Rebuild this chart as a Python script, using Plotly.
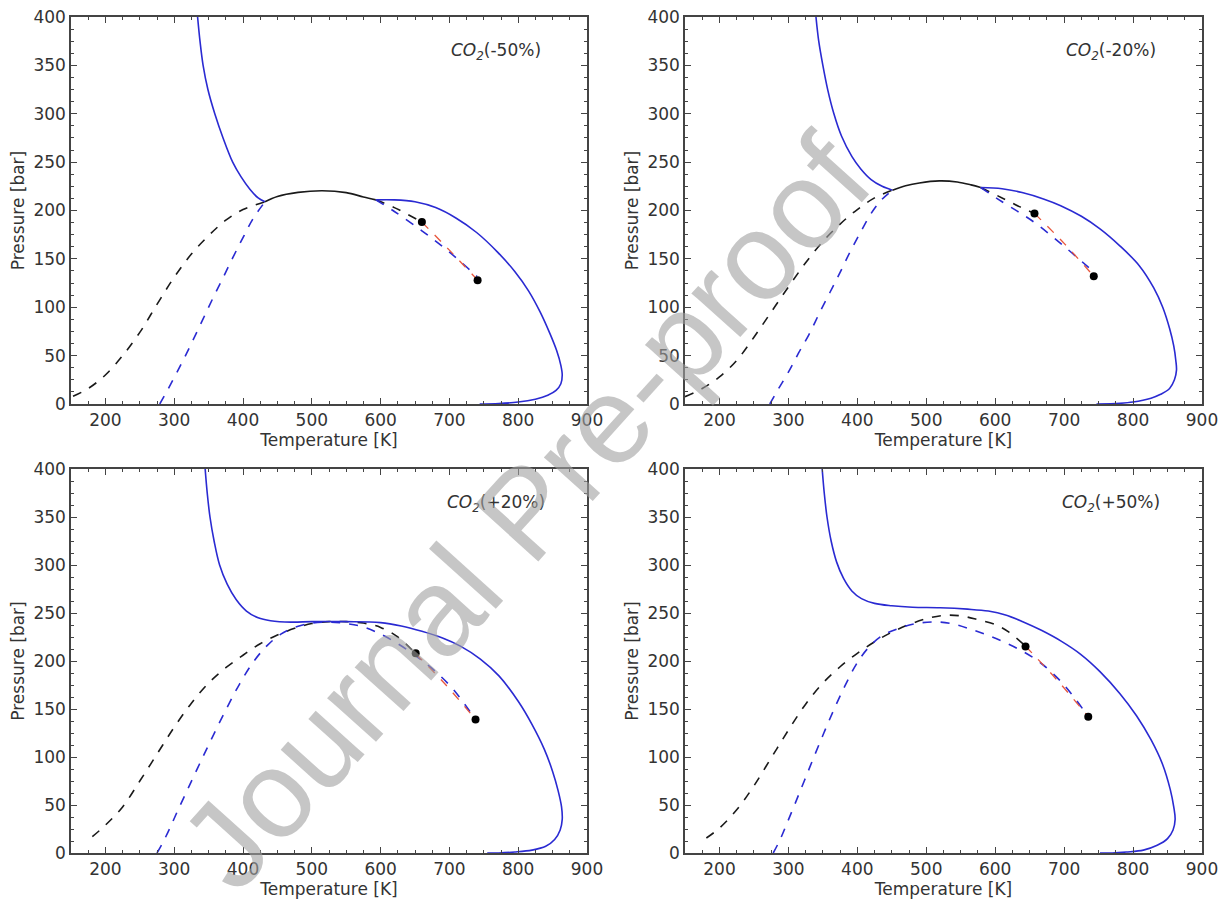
import plotly.graph_objects as go

# ---------------- data (T in K, P in bar) ----------------
labels = ["(-50%)", "(-20%)", "(+20%)", "(+50%)"]

# Panel 1: CO2(-50%)
p1_blue_up_T = [334, 337.5, 342, 349, 359, 371, 385, 397, 410, 422, 432]
p1_blue_up_P = [400, 375, 350, 325, 300, 275, 250, 235, 222, 213, 209]
p1_dome_T = [432, 450, 480, 515, 550, 575, 593]
p1_dome_P = [209, 214.5, 218.7, 220.4, 218.5, 214, 211]
p1_blue_rt_T = [593, 620, 650, 680, 710, 740, 770, 795, 815, 832, 846, 856, 862, 864, 862, 855, 843, 825, 800, 772, 744]
p1_blue_rt_P = [211, 211, 209, 203, 192, 177, 157, 137, 117, 95, 73, 55, 40, 30, 21, 14, 9, 5, 2, 0.5, 0]
p1_blk_dash_T = [153, 175, 200, 225, 250, 275, 300, 325, 350, 375, 400, 432]
p1_blk_dash_P = [8, 16, 30, 50, 74, 103, 131, 155, 174, 190, 201, 209]
p1_blk_dash_rt_T = [593, 620, 660]
p1_blk_dash_rt_P = [211, 203, 188]
p1_blu_dash_T = [279, 290, 302, 315, 328, 342, 356, 370, 385, 400, 415, 432]
p1_blu_dash_P = [0, 14, 30, 48, 67, 88, 109, 129, 151, 172, 192, 209]
p1_blu_dash_rt_T = [593, 620, 660, 700, 740]
p1_blu_dash_rt_P = [211, 199, 179, 157, 132]
p1_red_T = [660, 700, 741]
p1_red_P = [188, 159, 128]
p1_dot_T = [660, 741]
p1_dot_P = [188, 128]

# Panel 2: CO2(-20%)
p2_blue_up_T = [340, 344, 350, 357, 366, 377, 392, 405, 420, 436, 451]
p2_blue_up_P = [400, 375, 350, 325, 300, 277, 256, 243, 232, 225, 221]
p2_dome_T = [451, 470, 490, 519, 545, 565, 579]
p2_dome_P = [221, 225.5, 228.5, 230.6, 229.5, 226.5, 223.7]
p2_blue_rt_T = [579, 610, 639, 670, 695, 725, 752, 780, 809, 830, 843, 853, 859, 862, 863, 860, 853, 840, 826, 800, 781, 747]
p2_blue_rt_P = [223.7, 222.5, 218.6, 212, 205, 194, 181, 164, 143, 120, 100, 78, 60, 45, 35, 25, 16, 10, 6, 2, 0.7, 0]
p2_blk_dash_T = [150, 175, 200, 225, 250, 275, 300, 325, 350, 375, 400, 425, 451]
p2_blk_dash_P = [7.6, 16, 28, 45, 69, 95, 121, 146, 168, 186, 201, 213, 221]
p2_blk_dash_rt_T = [579, 610, 635, 657]
p2_blk_dash_rt_P = [223.7, 213, 204, 197]
p2_blu_dash_T = [273, 285, 300, 315, 330, 345, 360, 375, 390, 405, 420, 435, 451]
p2_blu_dash_P = [0, 15, 33, 53, 72, 94, 115, 136, 158, 178, 197, 211, 221]
p2_blu_dash_rt_T = [579, 610, 635, 657, 700, 742]
p2_blu_dash_rt_P = [223.7, 209, 198, 187.6, 163, 137]
p2_red_T = [657, 700, 743]
p2_red_P = [197, 166, 132]
p2_dot_T = [657, 743]
p2_dot_P = [197, 132]

# Panel 3: CO2(+20%)
p3_blue_T = [345, 348, 352, 358, 366, 377, 390, 405, 422, 440, 470, 500, 550, 600, 630, 660, 690, 716, 745, 772,
             800, 820, 838, 850, 858, 863, 864, 861, 853, 840, 820, 795, 772, 755]
p3_blue_P = [400, 375, 350, 325, 300, 280, 264, 252, 245, 242, 240.5, 241, 241, 240, 236.5, 231, 224, 215.5, 202, 184.5,
             158, 134, 108, 85, 65, 48, 35, 24, 14, 7, 3, 1, 0, 0]
p3_blk_dash_T = [181, 200, 225, 250, 275, 300, 325, 350, 375, 400, 425, 450, 475, 500, 525, 550, 575, 600, 625, 651]
p3_blk_dash_P = [17, 29, 48, 75, 103, 131, 156, 177, 193, 206, 218, 227, 234, 239, 241, 241, 239.5, 235, 225, 207.6]
p3_blu_dash_T = [275, 285, 295, 305, 320, 337, 355, 375, 395, 415, 435, 455, 475, 500, 525, 550, 575, 600, 625, 650, 675, 705, 736]
p3_blu_dash_P = [0, 13, 28, 44, 67, 93, 120, 149, 176, 199, 216, 228, 235, 239.5, 240.5, 239, 235.5, 228, 218, 206, 192, 171, 141]
p3_red_T = [651, 695, 738]
p3_red_P = [207.6, 175, 139]
p3_dot_T = [651, 738]
p3_dot_P = [208, 139]

# Panel 4: CO2(+50%)
p4_blue_T = [349, 352, 356, 362, 370, 380, 392, 406, 425, 450, 480, 520, 560, 590, 615, 640, 667, 695, 724, 752,
             781, 805, 826, 843, 854, 859, 861, 858, 850, 835, 815, 790, 770, 752]
p4_blue_P = [400, 375, 350, 325, 303, 286, 273, 265, 260, 257.5, 256, 255.5, 254, 252, 248, 241, 232, 221, 207, 189,
             166, 143, 118, 92, 66, 48, 35, 24, 15, 8, 3, 1, 0, 0]
p4_blk_dash_T = [181, 200, 225, 250, 275, 300, 325, 350, 375, 400, 425, 450, 475, 500, 525, 550, 575, 600, 620, 644]
p4_blk_dash_P = [15.6, 26, 45, 70, 99, 128, 155, 177, 194, 208, 220, 230, 238, 244, 247.5, 247, 243, 238, 230, 215.4]
p4_blu_dash_T = [278, 288, 298, 310, 323, 337, 352, 367, 382, 398, 415, 435, 460, 485, 513, 540, 565, 590, 615, 640, 667, 700, 735]
p4_blu_dash_P = [0, 14, 31, 52, 75, 100, 126, 151, 174, 196, 213, 226, 234, 239, 240.7, 238.5, 233, 226.5, 219, 210, 197.4, 175, 142]
p4_red_T = [644, 690, 735]
p4_red_P = [215.4, 180, 142]
p4_dot_T = [644, 735]
p4_dot_P = [215, 142]

x_ticks = [200, 300, 400, 500, 600, 700, 800, 900]
y_ticks = [0, 50, 100, 150, 200, 250, 300, 350, 400]

# ---------------- styling ----------------
BLUE = "#2a2ad2"
BLACK = "#1a1a1a"
RED = "#e8563c"
AX = "#444444"
TXT = "#333333"
FONT = "DejaVu Sans"
LW = 1.6

fig = go.Figure()


def line(T, P, color, dash, ax, width=LW):
    fig.add_trace(go.Scatter(x=T, y=P, mode="lines", xaxis="x" + ax, yaxis="y" + ax,
                             line=dict(color=color, dash=dash, width=width, shape="spline", smoothing=1.0),
                             showlegend=False, hoverinfo="skip"))


def dots(T, P, ax):
    fig.add_trace(go.Scatter(x=T, y=P, mode="markers", xaxis="x" + ax, yaxis="y" + ax,
                             marker=dict(color="black", size=8), showlegend=False, hoverinfo="skip"))


# panel 1
a = ""
line(p1_blk_dash_T, p1_blk_dash_P, BLACK, "dash", a)
line(p1_blu_dash_T, p1_blu_dash_P, BLUE, "dash", a)
line(p1_blk_dash_rt_T, p1_blk_dash_rt_P, BLACK, "dash", a)
line(p1_blu_dash_rt_T, p1_blu_dash_rt_P, BLUE, "dash", a)
line(p1_red_T, p1_red_P, RED, "dash", a, 1.3)
line(p1_blue_up_T, p1_blue_up_P, BLUE, "solid", a)
line(p1_dome_T, p1_dome_P, BLACK, "solid", a)
line(p1_blue_rt_T, p1_blue_rt_P, BLUE, "solid", a)
dots(p1_dot_T, p1_dot_P, a)

# panel 2
a = "2"
line(p2_blk_dash_T, p2_blk_dash_P, BLACK, "dash", a)
line(p2_blu_dash_T, p2_blu_dash_P, BLUE, "dash", a)
line(p2_blk_dash_rt_T, p2_blk_dash_rt_P, BLACK, "dash", a)
line(p2_blu_dash_rt_T, p2_blu_dash_rt_P, BLUE, "dash", a)
line(p2_red_T, p2_red_P, RED, "dash", a, 1.3)
line(p2_blue_up_T, p2_blue_up_P, BLUE, "solid", a)
line(p2_dome_T, p2_dome_P, BLACK, "solid", a)
line(p2_blue_rt_T, p2_blue_rt_P, BLUE, "solid", a)
dots(p2_dot_T, p2_dot_P, a)

# panel 3
a = "3"
line(p3_blk_dash_T, p3_blk_dash_P, BLACK, "dash", a)
line(p3_blu_dash_T, p3_blu_dash_P, BLUE, "dash", a)
line(p3_red_T, p3_red_P, RED, "dash", a, 1.3)
line(p3_blue_T, p3_blue_P, BLUE, "solid", a)
dots(p3_dot_T, p3_dot_P, a)

# panel 4
a = "4"
line(p4_blk_dash_T, p4_blk_dash_P, BLACK, "dash", a)
line(p4_blu_dash_T, p4_blu_dash_P, BLUE, "dash", a)
line(p4_red_T, p4_red_P, RED, "dash", a, 1.3)
line(p4_blue_T, p4_blue_P, BLUE, "solid", a)
dots(p4_dot_T, p4_dot_P, a)

W, H = 1223, 900
xdoms = [[71 / W, 587 / W], [685 / W, 1202 / W]]
ydoms = [[1 - 404 / H, 1 - 17 / H], [1 - 853 / H, 1 - 469 / H]]


def xax(dom, anchor):
    return dict(domain=dom, anchor=anchor, range=[150, 900], tickvals=x_ticks, automargin=False,
                showline=True, linecolor=AX, linewidth=1.5, mirror="allticks",
                ticks="inside", ticklen=6, tickwidth=1.3, tickcolor=AX,
                minor=dict(dtick=25, tick0=0, ticks="inside", ticklen=3, tickwidth=1, tickcolor=AX),
                showgrid=False, zeroline=False,
                tickfont=dict(family=FONT, size=17, color=TXT),
                title=dict(text="Temperature [K]", font=dict(family=FONT, size=17, color=TXT), standoff=4))


def yax(dom, anchor):
    return dict(domain=dom, anchor=anchor, range=[0, 400], tickvals=y_ticks, automargin=False,
                showline=True, linecolor=AX, linewidth=1.5, mirror="allticks",
                ticks="inside", ticklen=6, tickwidth=1.3, tickcolor=AX,
                minor=dict(dtick=12.5, tick0=0, ticks="inside", ticklen=3, tickwidth=1, tickcolor=AX),
                showgrid=False, zeroline=False,
                tickfont=dict(family=FONT, size=17, color=TXT),
                title=dict(text="Pressure [bar]", font=dict(family=FONT, size=17, color=TXT), standoff=4))


layout = dict(width=W, height=H, margin=dict(l=0, r=0, t=0, b=0, autoexpand=False),
              paper_bgcolor="white", plot_bgcolor="white", showlegend=False)
layout["xaxis"] = xax(xdoms[0], "y")
layout["yaxis"] = yax(ydoms[0], "x")
layout["xaxis2"] = xax(xdoms[1], "y2")
layout["yaxis2"] = yax(ydoms[0], "x2")
layout["xaxis3"] = xax(xdoms[0], "y3")
layout["yaxis3"] = yax(ydoms[1], "x3")
layout["xaxis4"] = xax(xdoms[1], "y4")
layout["yaxis4"] = yax(ydoms[1], "x4")

annotations = []
for i, lab in enumerate(labels):
    s = "" if i == 0 else str(i + 1)
    annotations.append(dict(x=768, y=364, xref="x" + s, yref="y" + s, showarrow=False,
                            text="<i>CO</i><sub><i>2</i></sub>" + lab,
                            font=dict(family=FONT, size=17, color=TXT)))
# watermark
annotations.append(dict(x=525 / W, y=1 - 512 / H, xref="paper", yref="paper", showarrow=False,
                        text="Journal Pre-proof", textangle=-48,
                        font=dict(family="Liberation Sans", size=124, color="rgba(160,160,160,0.6)")))
layout["annotations"] = annotations

fig.update_layout(layout)
fig.write_html("out.html")
